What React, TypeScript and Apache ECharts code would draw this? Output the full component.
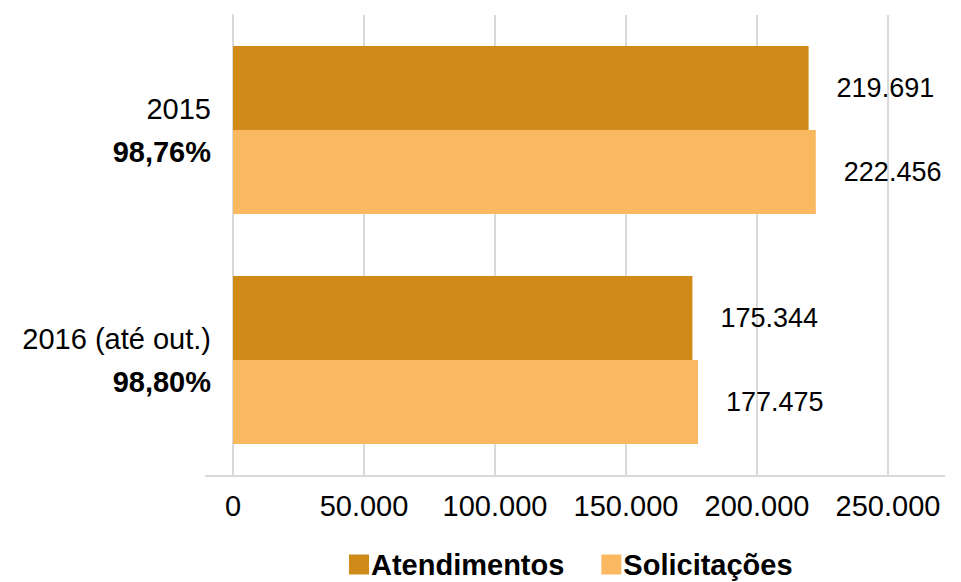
import React, { useEffect, useRef } from "react";
import * as echarts from "echarts";

const years = ["2015", "2016 (até out.)"];
const rates = ["98,76%", "98,80%"];
const atendimentos = [219691, 175344];
const solicitacoes = [222456, 177475];
const seriesNames = ["Atendimentos", "Solicitações"];
const xTicks = { min: 0, max: 250000, interval: 50000 };

const FONT = "'Liberation Sans', Arial, sans-serif";

const fmt = (v: number) =>
  String(Math.round(v)).replace(/\B(?=(\d{3})+(?!\d))/g, ".");

export default function App() {
  const ref = useRef<HTMLDivElement>(null);
  useEffect(() => {
    if (!ref.current) return;
    const chart = echarts.init(ref.current, undefined, { renderer: "svg" });
    const labelCfg = {
      show: true,
      position: "right" as const,
      distance: 28,
      color: "#000",
      fontFamily: FONT,
      fontSize: 27,
      formatter: (p: any) => fmt(p.value),
    };
    chart.setOption({
      animation: false,
      textStyle: { fontFamily: FONT },
      grid: { left: 233, right: 73, top: 15, bottom: 107, containLabel: false },
      xAxis: {
        type: "value",
        min: xTicks.min,
        max: xTicks.max,
        interval: xTicks.interval,
        axisLine: { show: false },
        axisTick: { show: false },
        splitLine: { show: true, lineStyle: { color: "#d9d9d9", width: 2 } },
        axisLabel: {
          color: "#000",
          fontSize: 29,
          fontFamily: FONT,
          margin: 16,
          formatter: (v: number) => fmt(v),
        },
      },
      yAxis: {
        type: "category",
        inverse: true,
        data: years,
        axisLine: { show: true, lineStyle: { color: "#d9d9d9", width: 2 } },
        axisTick: { show: false },
        axisLabel: {
          margin: 22,
          align: "right",
          formatter: (v: string, i: number) => `{a|${v}}\n{b|${rates[i]}}`,
          rich: {
            a: { fontSize: 29, fontFamily: FONT, color: "#000", lineHeight: 43, align: "right" },
            b: { fontSize: 29, fontFamily: FONT, fontWeight: "bold", color: "#000", lineHeight: 43, align: "right" },
          },
        },
      },
      legend: {
        left: 349,
        top: 550,
        padding: 0,
        icon: "rect",
        itemWidth: 20,
        itemHeight: 20,
        itemGap: 37,
        textStyle: {
          fontSize: 29,
          lineHeight: 20,
          fontWeight: "bold",
          color: "#000",
          fontFamily: FONT,
          padding: [0, 0, 0, -3],
        },
        data: seriesNames,
      },
      graphic: [
        {
          type: "line",
          shape: { x1: 205, y1: 476, x2: 945, y2: 476 },
          style: { stroke: "#d9d9d9", lineWidth: 2 },
          z: 0,
        },
      ],
      series: [
        {
          name: seriesNames[0],
          type: "bar",
          data: atendimentos,
          barWidth: 84,
          barGap: "0%",
          itemStyle: { color: "#D08A17" },
          label: labelCfg,
        },
        {
          name: seriesNames[1],
          type: "bar",
          data: solicitacoes,
          barWidth: 84,
          barGap: "0%",
          itemStyle: { color: "#FAB861" },
          label: labelCfg,
        },
      ],
    });
    return () => chart.dispose();
  }, []);
  return <div ref={ref} style={{ width: 961, height: 582, position: "absolute", left: 0, top: 0 }} />;
}
